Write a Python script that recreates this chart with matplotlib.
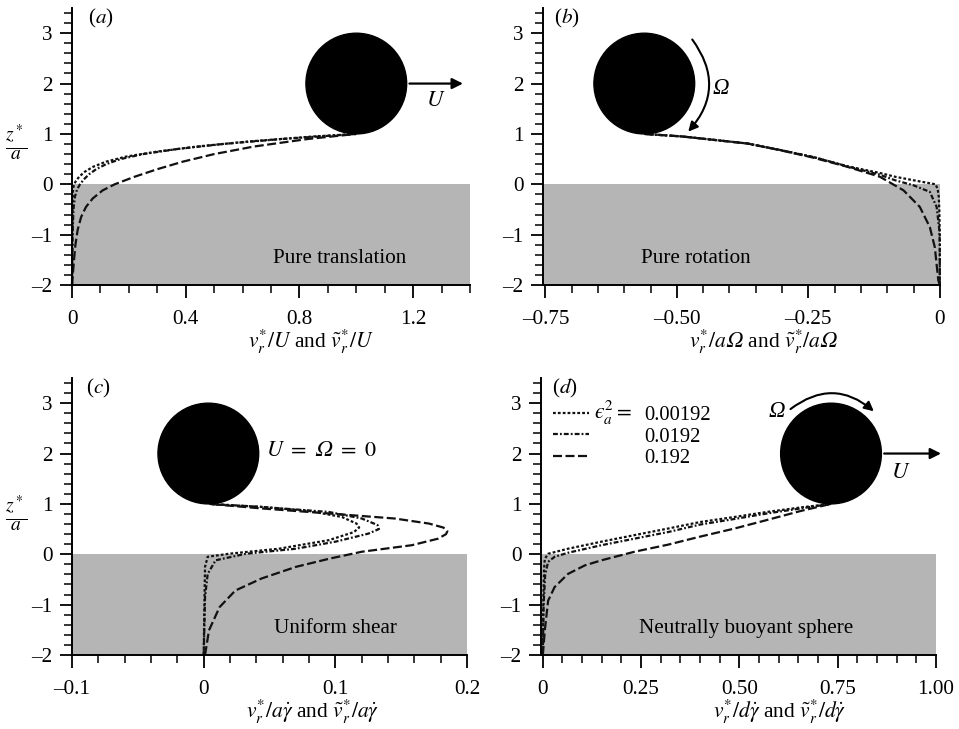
import numpy as np
import matplotlib
matplotlib.use('Agg')
import matplotlib.pyplot as plt
from matplotlib.patches import Ellipse, FancyArrowPatch
from matplotlib.lines import Line2D

# ---- data (z/a vs normalised radial velocity) ----
eps_labels = ['0.00192', '0.0192', '0.192']

# (a) pure translation
a_z_dot = [-2, -1, -0.4, -0.15, -0.05, 0.05, 0.15, 0.25, 0.35, 0.45, 0.55, 0.65, 0.75, 0.85, 0.95, 1.0]
a_v_dot = [0, 0.001, 0.002, 0.003, 0.005, 0.012, 0.025, 0.045, 0.075, 0.12, 0.19, 0.3, 0.44, 0.62, 0.85, 1.0]
a_z_mid = [-2, -1, -0.5, -0.25, -0.1, 0, 0.1, 0.2, 0.3, 0.4, 0.5, 0.6, 0.7, 0.8, 0.9, 1.0]
a_v_mid = [0, 0.002, 0.005, 0.01, 0.018, 0.028, 0.042, 0.06, 0.085, 0.12, 0.17, 0.25, 0.37, 0.53, 0.74, 1.0]
a_z_long = [-2, -1.5, -1.2, -0.9, -0.65, -0.45, -0.28, -0.12, 0.0, 0.15, 0.3, 0.45, 0.6, 0.75, 0.9, 1.0]
a_v_long = [0, 0.007, 0.012, 0.02, 0.032, 0.049, 0.073, 0.108, 0.15, 0.22, 0.3, 0.39, 0.5, 0.64, 0.83, 1.0]

# (b) pure rotation
b_z_dot = [-2, -1, -0.5, -0.25, -0.1, 0.0, 0.08, 0.15, 0.225, 0.36, 0.54, 0.68, 0.81, 0.95, 1.0]
b_v_dot = [0, 0, -0.001, -0.002, -0.004, -0.008, -0.05, -0.085, -0.114, -0.177, -0.24, -0.303, -0.366, -0.49, -0.562]
b_z_mid = [-2, -1.2, -0.9, -0.45, -0.15, -0.02, 0.08, 0.19, 0.36, 0.54, 0.68, 0.81, 0.95, 1.0]
b_v_mid = [0, 0, -0.001, -0.006, -0.019, -0.05, -0.085, -0.114, -0.177, -0.24, -0.303, -0.366, -0.49, -0.562]
b_z_long = [-2, -1.9, -1.25, -0.85, -0.45, -0.12, 0.15, 0.36, 0.54, 0.68, 0.81, 0.95, 1.0]
b_v_long = [0, -0.003, -0.0095, -0.019, -0.038, -0.069, -0.114, -0.18, -0.245, -0.305, -0.366, -0.49, -0.562]

# (c) uniform shear
c_z_dot = [-2, -1, -0.25, -0.05, 0.01, 0.11, 0.28, 0.44, 0.53, 0.61, 0.68, 0.74, 0.86, 0.94, 1.0]
c_v_dot = [0, 0.0005, 0.001, 0.003, 0.019, 0.057, 0.095, 0.114, 0.118, 0.116, 0.11, 0.105, 0.08, 0.044, 0.004]
c_z_mid = [-2, -0.85, -0.39, -0.12, 0.01, 0.11, 0.25, 0.41, 0.5, 0.58, 0.71, 0.84, 0.94, 1.0]
c_v_mid = [0, 0.001, 0.003, 0.009, 0.032, 0.07, 0.1, 0.125, 0.133, 0.132, 0.12, 0.095, 0.044, 0.004]
c_z_long = [-2, -1.51, -1.05, -0.72, -0.48, -0.25, -0.09, 0.05, 0.18, 0.31, 0.4, 0.46, 0.53, 0.61, 0.71, 0.81, 0.91, 1.0]
c_v_long = [0.001, 0.004, 0.012, 0.024, 0.044, 0.07, 0.095, 0.12, 0.158, 0.178, 0.184, 0.185, 0.182, 0.171, 0.145, 0.095, 0.044, 0.004]

# (d) neutrally buoyant sphere
d_z_dot = [-2, -1, -0.3, -0.09, 0.01, 0.11, 0.25, 0.38, 0.51, 0.64, 0.74, 0.84, 0.93, 1.0]
d_v_dot = [0, 0.001, 0.003, 0.005, 0.0135, 0.064, 0.149, 0.233, 0.318, 0.40, 0.487, 0.57, 0.656, 0.733]
d_z_mid = [-2, -1, -0.4, -0.15, -0.05, 0.03, 0.18, 0.31, 0.44, 0.59, 0.70, 0.81, 0.91, 1.0]
d_v_mid = [0, 0.002, 0.006, 0.0135, 0.03, 0.064, 0.149, 0.233, 0.318, 0.40, 0.487, 0.57, 0.656, 0.733]
d_z_long = [-2, -1.51, -0.92, -0.65, -0.39, -0.22, -0.12, 0.05, 0.19, 0.35, 0.51, 0.68, 0.86, 1.0]
d_v_long = [0, 0.005, 0.0135, 0.03, 0.064, 0.107, 0.149, 0.233, 0.318, 0.40, 0.487, 0.57, 0.656, 0.733]

sphere_x = [1.0, -0.562, 0.0035, 0.733]   # sphere centre (z/a = 2)

xlims = [(0, 1.4), (-0.755, 0.0), (-0.1, 0.2), (-0.005, 1.0)]
xmajor = [[0, 0.4, 0.8, 1.2], [-0.75, -0.5, -0.25, 0], [-0.1, 0, 0.1, 0.2], [0, 0.25, 0.5, 0.75, 1.0]]
xmajor_lbl = [['0', '0.4', '0.8', '1.2'], ['\u20130.75', '\u20130.50', '\u20130.25', '0'],
              ['\u20130.1', '0', '0.1', '0.2'], ['0', '0.25', '0.50', '0.75', '1.00']]
xminor_step = [0.1, 0.05, 0.02, 0.05]
yticks = [-2, -1, 0, 1, 2, 3]
ytick_lbl = ['\u20132', '\u20131', '0', '1', '2', '3']

OM = '\U0001D6FA'   # mathematical italic capital omega
xlabels = [r'$v_r^{*}/U$ and $\tilde{v}_r^{*}/U$',
           '$v_r^{*}/a' + OM + '$ and $\\tilde{v}_r^{*}/a' + OM + '$',
           r'$v_r^{*}/a\dot{\gamma}$ and $\tilde{v}_r^{*}/a\dot{\gamma}$',
           r'$v_r^{*}/d\dot{\gamma}$ and $\tilde{v}_r^{*}/d\dot{\gamma}$']
xlabel_pos = [0.6, 0.557, 0.61, 0.605]
case_text = ['Pure translation', 'Pure rotation', 'Uniform shear', 'Neutrally buoyant sphere']
case_x = [0.94, -0.464, 0.1, 0.518]
panel_tag = ['a', 'b', 'c', 'd']
tag_x = [0.1, -0.71, -0.08, 0.056]

FS = 15.2
plt.rcParams['font.family'] = ['Liberation Serif', 'DejaVu Serif']
plt.rcParams['mathtext.fontset'] = 'stix'
plt.rcParams['font.size'] = FS
plt.rcParams['lines.scale_dashes'] = False

styles = [(0, (2, 1.5)), (0, (3.5, 1.5, 1.3, 1.5)), (0, (6.5, 2.5))]
gray = '#b5b5b5'
ink = '#111111'

W, H = 959, 729
fig = plt.figure(figsize=(W / 100, H / 100), dpi=100)
rects = [[0.0751, 0.609, 0.415, 0.380], [0.566, 0.609, 0.414, 0.380],
         [0.0751, 0.1015, 0.412, 0.380], [0.564, 0.1015, 0.412, 0.380]]

curves = [
    [(a_v_dot, a_z_dot), (a_v_mid, a_z_mid), (a_v_long, a_z_long)],
    [(b_v_dot, b_z_dot), (b_v_mid, b_z_mid), (b_v_long, b_z_long)],
    [(c_v_dot, c_z_dot), (c_v_mid, c_z_mid), (c_v_long, c_z_long)],
    [(d_v_dot, d_z_dot), (d_v_mid, d_z_mid), (d_v_long, d_z_long)],
]

axes = []
radii = []
for i in range(4):
    ax = fig.add_axes(rects[i])
    axes.append(ax)
    ax.set_xlim(*xlims[i])
    ax.set_ylim(-2, 3.5)
    ax.axhspan(-2, 0, color=gray, lw=0, zorder=0)

    for k, (v, z) in enumerate(curves[i]):
        ax.plot(v, z, color=ink, lw=1.6, linestyle=styles[k], clip_on=False, zorder=2)

    # axes cosmetics
    for s in ['top', 'right']:
        ax.spines[s].set_visible(False)
    for s in ['left', 'bottom']:
        ax.spines[s].set_linewidth(1.4)
    ax.set_xticks(xmajor[i])
    ax.set_xticklabels(xmajor_lbl[i])
    lo, hi = xlims[i]
    mn = np.arange(round(lo / xminor_step[i]) * xminor_step[i], hi + 1e-9, xminor_step[i])
    ax.set_xticks(mn, minor=True)
    ax.set_yticks(yticks)
    ax.set_yticklabels(ytick_lbl)
    ax.set_yticks(np.arange(-2, 3.5, 0.2), minor=True)
    ax.tick_params(which='major', direction='out', length=9, width=1.3)
    ax.tick_params(which='minor', direction='out', length=5.5, width=1.1)
    ax.tick_params(axis='x', which='major', pad=9)
    ax.tick_params(axis='y', which='major', pad=5)

    ax.set_xlabel(xlabels[i], fontsize=15.5)
    ax.xaxis.set_label_coords(xlabel_pos[i], -0.155)

    ax.text(case_x[i], -1.47, case_text[i], ha='center', va='center')
    ax.text(tag_x[i], 3.3, '(' + r'$\mathit{' + panel_tag[i] + '}$' + ')', ha='center', va='center')

    # sphere drawn as a true circle of radius a
    pos = ax.get_position()
    px_x = pos.width * W / (hi - lo)
    px_y = pos.height * H / 5.5
    rx = px_y / px_x
    radii.append(rx)
    ax.add_patch(Ellipse((sphere_x[i], 2), 2 * rx, 2, color='black', zorder=5, clip_on=False))

# (a) translation arrow
ax = axes[0]
ax.add_patch(FancyArrowPatch((sphere_x[0] + radii[0], 2), (1.385, 2), arrowstyle='-|>',
                             mutation_scale=16, lw=1.6, color='black', clip_on=False, zorder=6))
ax.text(1.28, 1.67, r'$U$', ha='center', va='center', fontsize=16.5)

# (b) rotation arc
ax = axes[1]
r = 1.3
a1, a2 = np.radians(45), np.radians(-50)
pA = (sphere_x[1] + r * radii[1] * np.cos(a1), 2 + r * np.sin(a1))
pB = (sphere_x[1] + r * radii[1] * np.cos(a2), 2 + r * np.sin(a2))
ax.add_patch(FancyArrowPatch(pA, pB, connectionstyle='arc3,rad=-0.42', arrowstyle='-|>',
                             mutation_scale=14, lw=1.5, color='black', zorder=6))
ax.text(-0.417, 1.9, '\u03a9', style='italic', ha='center', va='center', fontsize=16.5)

# (c) label
axes[2].text(0.047, 2.05, '$U\\ =\\ ' + OM + '\\ =\\ 0$', ha='left', va='center', fontsize=16)

# (d) rotation arc + translation arrow
ax = axes[3]
r = 1.2
a1, a2 = np.radians(135), np.radians(42)
pA = (sphere_x[3] + r * radii[3] * np.cos(a1), 2 + r * np.sin(a1))
pB = (sphere_x[3] + r * radii[3] * np.cos(a2), 2 + r * np.sin(a2))
ax.add_patch(FancyArrowPatch(pA, pB, connectionstyle='arc3,rad=-0.42', arrowstyle='-|>',
                             mutation_scale=14, lw=1.5, color='black', zorder=6))
ax.text(0.596, 2.83, '\u03a9', style='italic', ha='center', va='center', fontsize=16.5)
ax.add_patch(FancyArrowPatch((sphere_x[3] + radii[3], 2), (1.02, 2), arrowstyle='-|>',
                             mutation_scale=16, lw=1.6, color='black', clip_on=False, zorder=6))
ax.text(0.91, 1.63, r'$U$', ha='center', va='center', fontsize=16.5)

handles = [Line2D([], [], color=ink, lw=1.6, linestyle=s) for s in styles]
leg = ax.legend(handles, eps_labels, loc='upper left', bbox_to_anchor=(0.03, 0.9), frameon=False,
                handlelength=1.75, handletextpad=2.7, labelspacing=0.1, borderaxespad=0, borderpad=0,
                fontsize=14.8)
ax.text(0.131, 2.8, '$\u03f5_a^2 =$', ha='left', va='center', fontsize=15.5)

# y labels as stacked fractions
for yy in [0.804, 0.296]:
    fig.text(0.017, yy, r'$\frac{z^*}{a}$', ha='center', va='center', fontsize=20)

fig.savefig('out.png', dpi=100)
